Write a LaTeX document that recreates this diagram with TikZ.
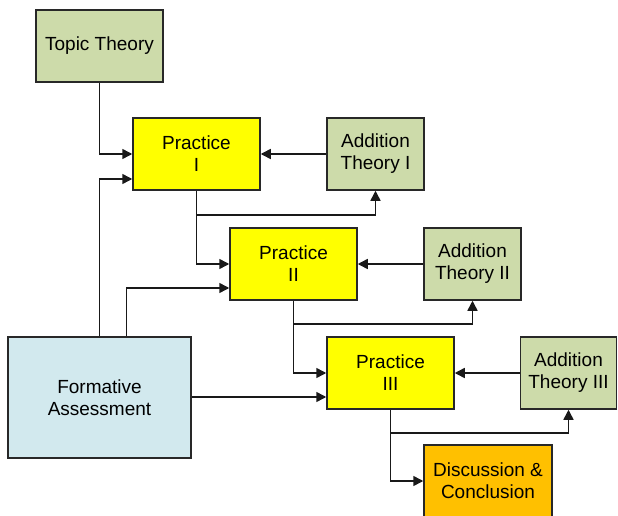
\documentclass[tikz,border=0pt]{standalone}
\usepackage{fontspec}
\setmainfont{Liberation Sans}
\usetikzlibrary{arrows.meta}
\definecolor{olivebox}{RGB}{205,219,170}
\definecolor{aquabox}{RGB}{210,233,238}
\definecolor{yellowbox}{RGB}{255,255,0}
\definecolor{orangebox}{RGB}{255,192,0}
\definecolor{edgegray}{RGB}{40,40,40}
\tikzset{
  box/.style={draw=edgegray, line width=1.5pt, rectangle, align=center, inner sep=0pt,
    font=\fontsize{19}{22}\selectfont, text=black},
  prac/.style={box, fill=yellowbox, minimum width=127pt, minimum height=72pt},
  theo/.style={box, fill=olivebox, minimum width=97pt, minimum height=72pt},
  arr/.style={draw=black!90, line width=1.5pt, -{Triangle[length=10pt,width=10pt]}},
  ln/.style={draw=black!90, line width=1.5pt}
}
\begin{document}
\begin{tikzpicture}[x=1pt,y=-1pt]
\useasboundingbox (0,0) rectangle (618,516);
\node[box, fill=olivebox, minimum width=127pt, minimum height=72pt] (tt) at (99.5,46) {Topic Theory};
\node[prac] (p1) at (196.5,154) {Practice\\I};
\node[theo] (a1) at (375.5,154) {Addition\\Theory I};
\node[prac] (p2) at (293.5,264) {Practice\\II};
\node[theo] (a2) at (472.5,264) {Addition\\Theory II};
\node[prac] (p3) at (390.5,373) {Practice\\III};
\node[theo, minimum width=96pt] (a3) at (568.5,373) {Addition\\Theory III};
\node[box, fill=aquabox, minimum width=183pt, minimum height=121pt] (fa) at (99.5,397.5) {Formative\\Assessment};
\node[box, fill=orangebox, minimum width=128pt, minimum height=72pt] (dc) at (488,481) {Discussion \&\\Conclusion};

% topic theory to practice I
\draw[arr] (tt.south) |- (p1.west);
% formative assessment links
\draw[arr] (fa.north) |- ([yshift=-25pt]p1.west);
\draw[arr] ([xshift=27pt]fa.north) |- ([yshift=-24pt]p2.west);
\draw[arr] (fa.east |- 0,397) -- (p3.west |- 0,397);
% addition theories to practices
\draw[arr] (a1.west) -- (p1.east);
\draw[arr] (a2.west) -- (p2.east);
\draw[arr] (a3.west) -- (p3.east);
% practice I branches
\coordinate (j1) at (p1.south |- 0,215);
\draw[ln] (p1.south) -- (j1);
\draw[arr] (j1) -| (a1.south);
\draw[arr] (j1) |- (p2.west);
% practice II branches
\coordinate (j2) at (p2.south |- 0,324);
\draw[ln] (p2.south) -- (j2);
\draw[arr] (j2) -| (a2.south);
\draw[arr] (j2) |- (p3.west);
% practice III branches
\coordinate (j3) at (p3.south |- 0,433);
\draw[ln] (p3.south) -- (j3);
\draw[arr] (j3) -| (a3.south);
\draw[arr] (j3) |- (dc.west);
\end{tikzpicture}
\end{document}
